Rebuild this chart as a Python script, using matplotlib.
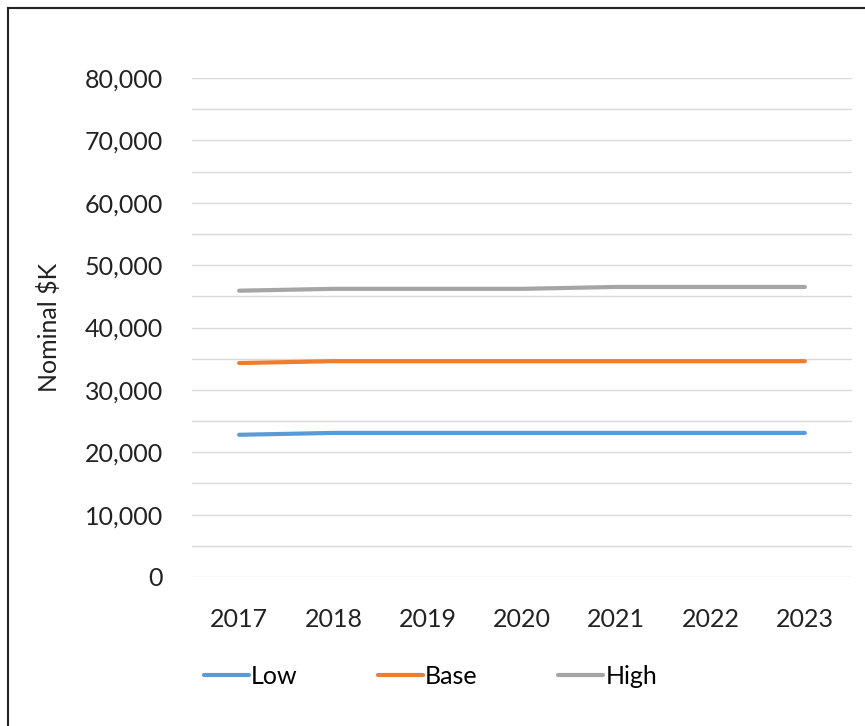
import matplotlib
matplotlib.use("Agg")
import matplotlib.pyplot as plt
from matplotlib.lines import Line2D
from matplotlib.ticker import FuncFormatter, MultipleLocator

years = ["2017", "2018", "2019", "2020", "2021", "2022", "2023"]
low = [22800, 23100, 23100, 23100, 23100, 23100, 23100]
base = [34300, 34600, 34600, 34600, 34600, 34600, 34600]
high = [45900, 46200, 46200, 46200, 46500, 46500, 46500]

plt.rcParams['font.family'] = ['Lato', 'DejaVu Sans']

W, H = 865, 726
fig = plt.figure(figsize=(W / 100, H / 100), dpi=100)
ax = fig.add_axes([192 / W, 1 - 577 / H, (852 - 192) / W, (577 - 78) / H])

x = range(len(years))
ax.plot(x, low, color="#5B9BD5", lw=3, solid_capstyle="round", label="Low")
ax.plot(x, base, color="#ED7D31", lw=3, solid_capstyle="round", label="Base")
ax.plot(x, high, color="#A5A5A5", lw=3, solid_capstyle="round", label="High")

ax.set_xlim(-0.5, len(years) - 0.5)
ax.set_ylim(0, 80000)
ax.set_xticks(list(x))
ax.set_xticklabels(years)
ax.yaxis.set_major_locator(MultipleLocator(10000))
ax.yaxis.set_minor_locator(MultipleLocator(5000))
ax.yaxis.set_major_formatter(FuncFormatter(lambda v, p: f"{int(v):,}"))
ax.grid(True, which="both", axis="y", color="#D9D9D9", lw=1)
ax.set_axisbelow(True)
for s in ax.spines.values():
    s.set_visible(False)
ax.tick_params(axis="both", which="both", length=0, labelsize=18, colors="#222222")
ax.tick_params(axis="y", pad=21)
ax.tick_params(axis="x", pad=22)
ax.set_ylabel("Nominal $K", fontsize=18, color="#222222", labelpad=17)

ax.legend(loc="center left", bbox_to_anchor=(181 / W, 1 - 676 / H),
          bbox_transform=fig.transFigure, ncol=3, frameon=False,
          fontsize=18, handlelength=1.8, handletextpad=0.1, columnspacing=3.2)

# outer border on left and top
fig.add_artist(Line2D([8 / W, 8 / W], [0, 1 - 8 / H], color="#222222", lw=1.5))
fig.add_artist(Line2D([8 / W, 1], [1 - 8 / H, 1 - 8 / H], color="#222222", lw=1.5))

fig.savefig("out.png", dpi=100)
